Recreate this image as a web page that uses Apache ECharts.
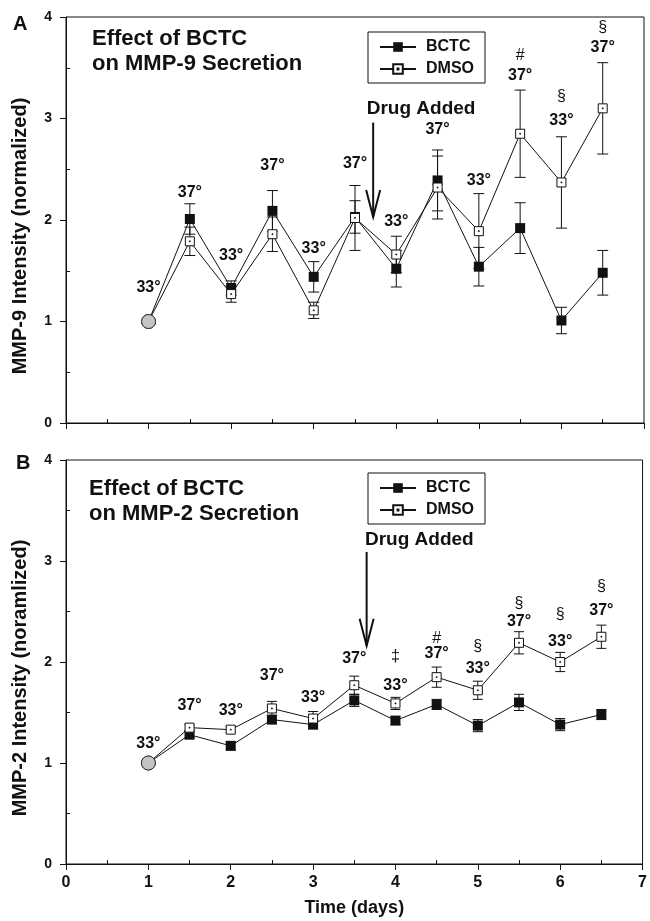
<!DOCTYPE html>
<html><head><meta charset="utf-8">
<script src="https://cdn.jsdelivr.net/npm/echarts@6/dist/echarts.min.js"></script>
<style>html,body{margin:0;padding:0;background:#fff}#c{width:650px;height:921px}</style>
</head><body><div id="c"></div>
<script>
// ---------------- data ----------------
const days = [1, 1.5, 2, 2.5, 3, 3.5, 4, 4.5, 5, 5.5, 6, 6.5];
const xTicks = [0, 1, 2, 3, 4, 5, 6, 7];
const yTicks = [0, 1, 2, 3, 4];

// Panel A: MMP-9
const mmp9Bctc    = [1.00, 2.01, 1.33, 2.09, 1.44, 2.03, 1.52, 2.39, 1.54, 1.92, 1.01, 1.48];
const mmp9BctcErr = [0, 0.15, 0.07, 0.20, 0.15, 0.16, 0.18, 0.30, 0.19, 0.25, 0.13, 0.22];
const mmp9Dmso    = [1.00, 1.79, 1.27, 1.86, 1.11, 2.02, 1.66, 2.32, 1.89, 2.85, 2.37, 3.10];
const mmp9DmsoErr = [0, 0.14, 0.08, 0.17, 0.08, 0.32, 0.18, 0.31, 0.37, 0.43, 0.45, 0.45];
const temps       = ['33°','37°','33°','37°','33°','37°','33°','37°','33°','37°','33°','37°'];
const mmp9TempY   = [1.33, 2.27, 1.65, 2.54, 1.72, 2.56, 1.98, 2.89, 2.39, 3.42, 2.98, 3.70];
const mmp9SigDays = [5.5, 6, 6.5];
const mmp9SigText = ['#', '§', '§'];
const mmp9SigY    = [3.62, 3.22, 3.90];
const mmp9Drug    = {day: 3.72, from: 2.96, to: 2.03, textDay: 4.30, textY: 3.10};

// Panel B: MMP-2
const mmp2Bctc    = [1.00, 1.28, 1.17, 1.43, 1.38, 1.62, 1.42, 1.58, 1.37, 1.60, 1.38, 1.48];
const mmp2BctcErr = [0, 0.03, 0.04, 0.04, 0.04, 0.06, 0.04, 0.05, 0.06, 0.08, 0.06, 0.05];
const mmp2Dmso    = [1.00, 1.35, 1.33, 1.54, 1.44, 1.77, 1.59, 1.85, 1.72, 2.19, 2.00, 2.25];
const mmp2DmsoErr = [0, 0.03, 0.03, 0.07, 0.07, 0.09, 0.06, 0.10, 0.09, 0.11, 0.095, 0.115];
const mmp2TempY   = [1.19, 1.57, 1.52, 1.87, 1.65, 2.03, 1.77, 2.08, 1.93, 2.40, 2.20, 2.51];
const mmp2SigDays = [4, 4.5, 5, 5.5, 6, 6.5];
const mmp2SigText = ['‡', '#', '§', '§', '§', '§'];
const mmp2SigY    = [2.05, 2.23, 2.15, 2.58, 2.47, 2.75];
const mmp2Drug    = {day: 3.65, from: 3.09, to: 2.16, textDay: 4.29, textY: 3.21};

// ---------------- styling ----------------
const FONT = '"Liberation Sans", Arial, sans-serif';
const INK = '#111';
const OPEN_SQ = 'path://M0,0L10,0L10,10L0,10Z M4.5,4.5L5.5,4.5L5.5,5.5L4.5,5.5Z';

function errSeries(xi, yi, vals, errs, cap) {
  const data = [];
  days.forEach((d, i) => { if (errs[i] > 0) data.push([d, vals[i] - errs[i], vals[i] + errs[i]]); });
  return {
    type: 'custom', xAxisIndex: xi, yAxisIndex: yi, silent: true, z: 1, animation: false,
    encode: {x: 0, y: [1, 2]}, data,
    renderItem(params, api) {
      const x = api.value(0);
      const lo = api.coord([x, api.value(1)]);
      const hi = api.coord([x, api.value(2)]);
      const h = cap / 2;
      const st = {stroke: INK, lineWidth: 1};
      return {type: 'group', children: [
        {type: 'line', shape: {x1: lo[0], y1: lo[1], x2: hi[0], y2: hi[1]}, style: st},
        {type: 'line', shape: {x1: lo[0] - h, y1: lo[1], x2: lo[0] + h, y2: lo[1]}, style: st},
        {type: 'line', shape: {x1: hi[0] - h, y1: hi[1], x2: hi[0] + h, y2: hi[1]}, style: st}
      ]};
    }
  };
}

function lineSeries(name, xi, yi, vals, filled) {
  return {
    type: 'line', name, xAxisIndex: xi, yAxisIndex: yi, z: 3, animation: false,
    data: days.map((d, i) => i === 0
      ? {value: [d, vals[i]], symbol: 'circle', symbolSize: 14,
         itemStyle: {color: '#c4c4c4', borderColor: '#333', borderWidth: 1}}
      : [d, vals[i]]),
    symbol: filled ? 'rect' : OPEN_SQ,
    symbolSize: filled ? 10 : 9,
    symbolKeepAspect: true,
    showAllSymbol: true,
    lineStyle: {color: INK, width: 1},
    itemStyle: filled ? {color: INK, borderColor: INK, borderWidth: 0}
                      : {color: '#fff', borderColor: INK, borderWidth: 1},
    emphasis: {disabled: true}
  };
}

function textSeries(xi, yi, xs, ys, texts, size, weight) {
  return {
    type: 'scatter', xAxisIndex: xi, yAxisIndex: yi, silent: true, z: 5, animation: false,
    symbolSize: 1, itemStyle: {color: 'rgba(0,0,0,0)', opacity: 1},
    data: xs.map((x, i) => ({value: [x, ys[i]], name: texts[i]})),
    label: {show: true, position: 'inside', formatter: p => p.name, color: INK, opacity: 1,
            textBorderWidth: 0, fontFamily: FONT, fontSize: size, fontWeight: weight}
  };
}

function arrowSeries(xi, yi, drug) {
  return {
    type: 'custom', xAxisIndex: xi, yAxisIndex: yi, silent: true, z: 4, animation: false,
    encode: {x: 0, y: [1, 2]},
    data: [[drug.day, drug.from, drug.to]],
    renderItem(p, api) {
      const t = api.coord([api.value(0), api.value(1)]);
      const b = api.coord([api.value(0), api.value(2)]);
      const st = {stroke: INK, lineWidth: 2, fill: null};
      return {type: 'group', children: [
        {type: 'line', shape: {x1: t[0], y1: t[1], x2: b[0], y2: b[1]}, style: st},
        {type: 'polyline', shape: {points: [[b[0] - 7, b[1] - 27], [b[0], b[1]], [b[0] + 7, b[1] - 27]]}, style: st}
      ]};
    }
  };
}

function xAxes(gi, showLabels) {
  return [
    {gridIndex: gi, type: 'value', position: 'bottom', min: xTicks[0], max: xTicks[xTicks.length - 1], interval: 1,
     axisLine: {show: true, onZero: false, lineStyle: {color: INK, width: 1}},
     axisTick: {show: true, length: 6, lineStyle: {color: INK}},
     axisLabel: {show: showLabels, margin: 11, fontFamily: FONT, fontSize: 16, fontWeight: 'bold', color: INK},
     splitLine: {show: false},
     name: showLabels ? 'Time (days)' : '', nameLocation: 'middle', nameGap: 35,
     nameTextStyle: {fontFamily: FONT, fontSize: 18, fontWeight: 'bold', color: INK}},
    {gridIndex: gi, type: 'value', position: 'bottom', min: xTicks[0], max: xTicks[xTicks.length - 1],
     axisLine: {show: false},
     axisTick: {show: true, inside: true, length: 4, lineStyle: {color: INK},
                customValues: xTicks.slice(0, -1).map(v => v + 0.5)},
     axisLabel: {show: false}, splitLine: {show: false}}
  ];
}

function yAxes(gi, title) {
  return [
    {gridIndex: gi, type: 'value', position: 'left', min: yTicks[0], max: yTicks[yTicks.length - 1], interval: 1,
     axisLine: {show: true, onZero: false, lineStyle: {color: INK, width: 1}},
     axisTick: {show: true, length: 6, lineStyle: {color: INK}},
     axisLabel: {margin: 14, fontFamily: FONT, fontSize: 14, fontWeight: 'bold', color: INK},
     splitLine: {show: false},
     name: title, nameLocation: 'middle', nameGap: 36,
     nameTextStyle: {fontFamily: FONT, fontSize: 20, fontWeight: 'bold', color: INK, padding: [0, 32, 0, 0]}},
    {gridIndex: gi, type: 'value', position: 'left', min: yTicks[0], max: yTicks[yTicks.length - 1],
     axisLine: {show: false},
     axisTick: {show: true, inside: true, length: 4, lineStyle: {color: INK},
                customValues: yTicks.slice(0, -1).map(v => v + 0.5)},
     axisLabel: {show: false}, splitLine: {show: false}}
  ];
}

function legend(top) {
  return {
    data: ['BCTC', 'DMSO'], orient: 'vertical', left: 368, top,
    selectedMode: false, borderColor: INK, borderWidth: 1,
    padding: [6, 11, 5, 11], itemWidth: 36, itemHeight: 12, itemGap: 4,
    textStyle: {fontFamily: FONT, fontSize: 16, fontWeight: 'bold', color: INK, lineHeight: 18, padding: [0, 0, 0, 5]}
  };
}

const titleStyle = {fontFamily: FONT, fontSize: 22, fontWeight: 'bold', color: INK, lineHeight: 25};
const letterStyle = {fontFamily: FONT, fontSize: 20, fontWeight: 'bold', color: INK};

const chart = echarts.init(document.getElementById('c'), null, {renderer: 'canvas'});
chart.setOption({
  backgroundColor: '#fff',
  animation: false,
  title: [
    {text: 'A', left: 8, top: 9, textStyle: letterStyle},
    {text: 'Effect of BCTC\non MMP-9 Secretion', left: 87, top: 21, textStyle: titleStyle},
    {text: 'B', left: 11, top: 448, textStyle: letterStyle},
    {text: 'Effect of BCTC\non MMP-2 Secretion', left: 84, top: 471, textStyle: titleStyle}
  ],
  legend: [legend(32), legend(473)],
  grid: [
    {left: 66, top: 17, width: 578, height: 406, show: true, borderColor: INK, borderWidth: 1, backgroundColor: 'transparent'},
    {left: 66, top: 460, width: 578, height: 404, show: true, borderColor: INK, borderWidth: 1, backgroundColor: 'transparent'}
  ],
  xAxis: [...xAxes(0, false), ...xAxes(1, true)],
  yAxis: [...yAxes(0, 'MMP-9 Intensity (normalized)'), ...yAxes(1, 'MMP-2 Intensity (noramlized)')],
  series: [
    errSeries(0, 0, mmp9Dmso, mmp9DmsoErr, 11),
    errSeries(0, 0, mmp9Bctc, mmp9BctcErr, 11),
    lineSeries('BCTC', 0, 0, mmp9Bctc, true),
    lineSeries('DMSO', 0, 0, mmp9Dmso, false),
    textSeries(0, 0, days, mmp9TempY, temps, 16, 'bold'),
    textSeries(0, 0, mmp9SigDays, mmp9SigY, mmp9SigText, 16, 'normal'),
    textSeries(0, 0, [mmp9Drug.textDay], [mmp9Drug.textY], ['Drug Added'], 19, 'bold'),
    arrowSeries(0, 0, mmp9Drug),

    errSeries(2, 2, mmp2Dmso, mmp2DmsoErr, 10),
    errSeries(2, 2, mmp2Bctc, mmp2BctcErr, 10),
    lineSeries('BCTC', 2, 2, mmp2Bctc, true),
    lineSeries('DMSO', 2, 2, mmp2Dmso, false),
    textSeries(2, 2, days, mmp2TempY, temps, 16, 'bold'),
    textSeries(2, 2, mmp2SigDays, mmp2SigY, mmp2SigText, 16, 'normal'),
    textSeries(2, 2, [mmp2Drug.textDay], [mmp2Drug.textY], ['Drug Added'], 19, 'bold'),
    arrowSeries(2, 2, mmp2Drug)
  ]
});
</script>
</body></html>
